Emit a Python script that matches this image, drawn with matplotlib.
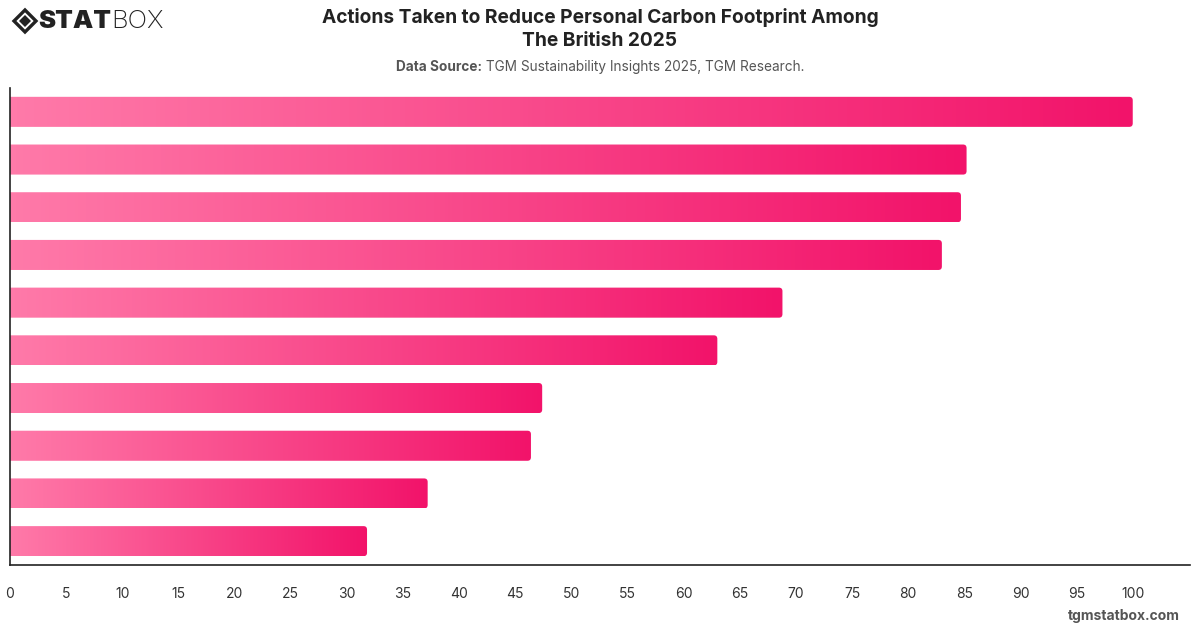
import numpy as np
import matplotlib
matplotlib.use("Agg")
import matplotlib.pyplot as plt
from matplotlib.patches import FancyBboxPatch, Polygon
from matplotlib.colors import LinearSegmentedColormap

plt.rcParams["font.family"] = ["Inter", "DejaVu Sans"]

# Data (top to bottom); category labels are not shown in the reference
values = [100, 85.2, 84.7, 83.0, 68.8, 63.0, 47.4, 46.4, 37.2, 31.8]
xticks = list(range(0, 101, 5))
title = "Actions Taken to Reduce Personal Carbon Footprint Among\nThe British 2025"
source_bold = "Data Source:"
source_text = " TGM Sustainability Insights 2025, TGM Research."

W, H = 1200, 628
fig = plt.figure(figsize=(W / 100, H / 100), dpi=100)
ax = fig.add_axes([10 / W, (H - 565) / H, 1180 / W, 477 / H])

n = len(values)
xmax = 105.1
ax.set_xlim(0, xmax)
ax.set_ylim(n - 0.5, -0.5)

cmap = LinearSegmentedColormap.from_list("pink", ["#FF7AA9", "#F2136A"])
grad = np.linspace(0, 1, 256).reshape(1, -1)

bar_h = 0.63
px_x = 1180 / xmax
px_y = 477 / n
aspect = px_x / px_y
r = 3.5 / px_x
for i, v in enumerate(values):
    y0 = i - bar_h / 2
    patch = FancyBboxPatch((-2, y0), v + 2, bar_h,
                           boxstyle=f"round,pad=0,rounding_size={r}",
                           mutation_aspect=aspect, facecolor="none",
                           edgecolor="none")
    ax.add_patch(patch)
    im = ax.imshow(grad, cmap=cmap, aspect="auto",
                   extent=(0, v, y0 + bar_h, y0), interpolation="bilinear",
                   zorder=2)
    im.set_clip_path(patch)

ax.set_xlim(0, xmax)
ax.set_ylim(n - 0.5, -0.5)
ax.set_xticks(xticks)
ax.set_xticklabels([str(t) for t in xticks], fontsize=10, color="#333333")
ax.tick_params(axis="x", length=0, pad=16)
ax.set_yticks([])
for s in ["top", "right"]:
    ax.spines[s].set_visible(False)
for s in ["left", "bottom"]:
    ax.spines[s].set_color("#222222")
    ax.spines[s].set_linewidth(1.2)

# Title and subtitle
fig.text(600 / W, 1 - 29 / H, title, ha="center", va="center",
         fontsize=13.8, fontweight="bold", color="#222222", linespacing=1.42)
t1 = fig.text(0, 1 - 67 / H, source_bold, ha="left", va="center",
              fontsize=9.8, fontweight="bold", color="#555555")
t2 = fig.text(0, 1 - 67 / H, source_text, ha="left", va="center",
              fontsize=9.8, color="#555555")
fig.canvas.draw()
r_ = fig.canvas.get_renderer()
w1 = t1.get_window_extent(r_).width
w2 = t2.get_window_extent(r_).width
x0 = 600 - (w1 + w2) / 2
t1.set_x(x0 / W)
t2.set_x((x0 + w1) / W)

# Logo
ly = 628 - 21
lx = 25
s = 11
outer = Polygon([(lx - s, ly), (lx, ly + s), (lx + s, ly), (lx, ly - s)],
                closed=True, transform=None, facecolor="none", edgecolor="#222222", linewidth=2.4)
si = 6
inner = Polygon([(lx - si, ly), (lx, ly + si), (lx + si, ly), (lx, ly - si)],
                closed=True, transform=None, facecolor="#222222", edgecolor="none")
fig.patches.extend([outer, inner])
l1 = fig.text(38 / W, 1 - 22 / H, "STAT", ha="left", va="center", fontsize=18.5,
              fontweight="black", color="#222222")
fig.canvas.draw()
wl = l1.get_window_extent(r_).width
fig.text((38 + wl) / W, 1 - 22 / H, "BOX", ha="left", va="center", fontsize=18.5,
         fontweight="light", color="#222222")

# Footer
fig.text(1180 / W, 1 - 616 / H, "tgmstatbox.com", ha="right", va="center",
         fontsize=10, fontweight="bold", color="#555555")

fig.savefig("out.png", dpi=100)
